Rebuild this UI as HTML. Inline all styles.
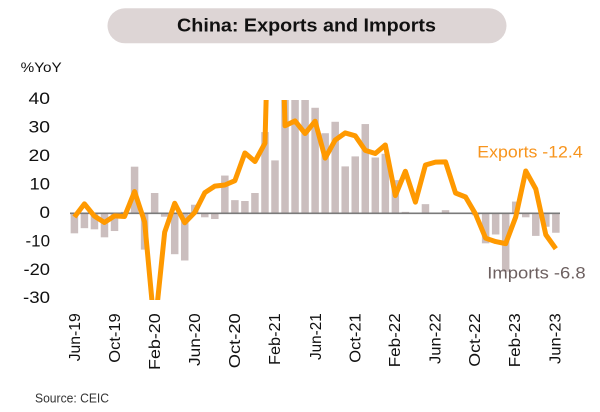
<!DOCTYPE html>
<html>
<head>
<meta charset="utf-8">
<style>
  html,body{margin:0;padding:0;background:#fff;}
  svg{display:block;}
  text{font-family:"Liberation Sans",sans-serif;}
</style>
</head>
<body>
<svg width="600" height="412" viewBox="0 0 600 412" xmlns="http://www.w3.org/2000/svg">
  <rect x="0" y="0" width="600" height="412" fill="#ffffff"/>
  <rect x="107.5" y="8.3" width="399" height="35" rx="17.5" ry="17.5" fill="#ddd5d5"/>
  <text x="177" y="31.5" font-size="18" font-weight="bold" fill="#111" textLength="259" lengthAdjust="spacingAndGlyphs">China: Exports and Imports</text>

  <text x="20.7" y="72" font-size="13.5" fill="#111" textLength="41" lengthAdjust="spacingAndGlyphs">%YoY</text>

  <g font-size="16.5" fill="#111" text-anchor="end">
    <text x="50" y="104.2" textLength="21.5" lengthAdjust="spacingAndGlyphs">40</text>
    <text x="50" y="132.6" textLength="21.5" lengthAdjust="spacingAndGlyphs">30</text>
    <text x="50" y="161.1" textLength="21.5" lengthAdjust="spacingAndGlyphs">20</text>
    <text x="50" y="189.5" textLength="20.5" lengthAdjust="spacingAndGlyphs">10</text>
    <text x="50" y="217.9" textLength="10.5" lengthAdjust="spacingAndGlyphs">0</text>
    <text x="50" y="246.4" textLength="24.5" lengthAdjust="spacingAndGlyphs">-10</text>
    <text x="50" y="274.8" textLength="26.5" lengthAdjust="spacingAndGlyphs">-20</text>
    <text x="50" y="303.2" textLength="27" lengthAdjust="spacingAndGlyphs">-30</text>
  </g>

  <defs>
    <clipPath id="plot">
      <rect x="60" y="100" width="510" height="200"/>
    </clipPath>
  </defs>

  <g fill="#cbbebe" clip-path="url(#plot)">
    <rect x="70.65" y="213.3" width="7.5" height="20.02"/>
    <rect x="80.68" y="213.3" width="7.5" height="14.87"/>
    <rect x="90.71" y="213.3" width="7.5" height="16.02"/>
    <rect x="100.74" y="213.3" width="7.5" height="24.02"/>
    <rect x="110.77" y="213.3" width="7.5" height="17.73"/>
    <rect x="120.8" y="211.87" width="7.5" height="1.43"/>
    <rect x="130.83" y="166.68" width="7.5" height="46.62"/>
    <rect x="140.86" y="213.3" width="7.5" height="36.32"/>
    <rect x="150.89" y="193.0" width="7.5" height="20.31"/>
    <rect x="160.92" y="213.3" width="7.5" height="3.43"/>
    <rect x="170.95" y="213.3" width="7.5" height="40.9"/>
    <rect x="180.98" y="213.3" width="7.5" height="47.19"/>
    <rect x="191.01" y="204.72" width="7.5" height="8.58"/>
    <rect x="201.04" y="213.3" width="7.5" height="4.0"/>
    <rect x="211.07" y="213.3" width="7.5" height="5.72"/>
    <rect x="221.1" y="175.55" width="7.5" height="37.75"/>
    <rect x="231.13" y="200.14" width="7.5" height="13.16"/>
    <rect x="241.16" y="201.0" width="7.5" height="12.3"/>
    <rect x="251.19" y="193.0" width="7.5" height="20.31"/>
    <rect x="261.22" y="132.08" width="7.5" height="81.22"/>
    <rect x="271.25" y="160.39" width="7.5" height="52.91"/>
    <rect x="281.28" y="100" width="7.5" height="113.3"/>
    <rect x="291.31" y="100" width="7.5" height="113.3"/>
    <rect x="301.34" y="100" width="7.5" height="113.3"/>
    <rect x="311.37" y="107.77" width="7.5" height="105.53"/>
    <rect x="321.4" y="133.22" width="7.5" height="80.08"/>
    <rect x="331.43" y="121.78" width="7.5" height="91.52"/>
    <rect x="341.46" y="166.4" width="7.5" height="46.9"/>
    <rect x="351.49" y="156.39" width="7.5" height="56.91"/>
    <rect x="361.52" y="124.07" width="7.5" height="89.23"/>
    <rect x="371.55" y="157.53" width="7.5" height="55.77"/>
    <rect x="381.58" y="153.81" width="7.5" height="59.49"/>
    <rect x="391.61" y="180.12" width="7.5" height="33.18"/>
    <rect x="401.64" y="211.87" width="7.5" height="1.43"/>
    <rect x="421.7" y="204.15" width="7.5" height="9.15"/>
    <rect x="431.73" y="212.73" width="7.5" height="0.57"/>
    <rect x="441.76" y="210.15" width="7.5" height="3.15"/>
    <rect x="451.79" y="212.73" width="7.5" height="0.57"/>
    <rect x="461.82" y="212.73" width="7.5" height="0.57"/>
    <rect x="471.85" y="213.3" width="7.5" height="2.0"/>
    <rect x="481.88" y="213.3" width="7.5" height="30.03"/>
    <rect x="491.91" y="213.3" width="7.5" height="21.16"/>
    <rect x="501.94" y="213.3" width="7.5" height="58.34"/>
    <rect x="511.97" y="201.57" width="7.5" height="11.73"/>
    <rect x="522.0" y="213.3" width="7.5" height="4.0"/>
    <rect x="532.03" y="213.3" width="7.5" height="22.59"/>
    <rect x="542.06" y="213.3" width="7.5" height="13.44"/>
    <rect x="552.09" y="213.3" width="7.5" height="19.45"/>
  </g>

  <line x1="70" y1="213.3" x2="560" y2="213.3" stroke="#7a7a7a" stroke-width="1.6"/>

  <polyline clip-path="url(#plot)" fill="none" stroke="#ff9900" stroke-width="5" stroke-linejoin="round" stroke-linecap="butt"
    points="74.4,217.0 84.43,203.86 94.46,216.16 104.49,222.45 114.52,215.87 124.55,216.45 134.58,191.56 144.61,221.88 154.64,329.4 164.67,232.18 174.7,203.29 184.73,222.74 194.76,212.44 204.79,192.71 214.82,186.13 224.85,184.99 234.88,180.7 244.91,152.95 254.94,161.53 264.97,143.23 275.0,-229.7 285.03,125.78 295.06,120.92 305.09,133.51 315.12,121.21 325.15,158.1 335.18,140.08 345.21,132.93 355.24,135.79 365.27,150.38 375.3,153.53 385.33,144.95 395.36,195.57 405.39,171.26 415.42,202.15 425.45,164.97 435.48,162.11 445.51,161.82 455.54,193.0 465.57,197.0 475.6,214.16 485.63,238.18 495.66,241.61 505.69,243.62 515.72,217.02 525.75,170.97 535.78,189.0 545.81,234.75 555.84,248.76"/>

  <text x="477.3" y="157.3" font-size="17" fill="#f7941d" textLength="105.4" lengthAdjust="spacingAndGlyphs">Exports -12.4</text>
  <text x="487.3" y="278.3" font-size="17" fill="#6d6060" textLength="98.4" lengthAdjust="spacingAndGlyphs">Imports -6.8</text>

  <g font-size="16" fill="#111" text-anchor="end">
    <text transform="translate(80.0,313.3) rotate(-90)" textLength="48" lengthAdjust="spacingAndGlyphs">Jun-19</text>
    <text transform="translate(120.0,313.3) rotate(-90)" textLength="49.4" lengthAdjust="spacingAndGlyphs">Oct-19</text>
    <text transform="translate(160.0,313.3) rotate(-90)" textLength="56.7" lengthAdjust="spacingAndGlyphs">Feb-20</text>
    <text transform="translate(200.0,313.3) rotate(-90)" textLength="52.7" lengthAdjust="spacingAndGlyphs">Jun-20</text>
    <text transform="translate(240.0,313.3) rotate(-90)" textLength="55" lengthAdjust="spacingAndGlyphs">Oct-20</text>
    <text transform="translate(280.0,313.3) rotate(-90)" textLength="51.7" lengthAdjust="spacingAndGlyphs">Feb-21</text>
    <text transform="translate(321.0,313.3) rotate(-90)" textLength="46.7" lengthAdjust="spacingAndGlyphs">Jun-21</text>
    <text transform="translate(360.6,313.3) rotate(-90)" textLength="49.4" lengthAdjust="spacingAndGlyphs">Oct-21</text>
    <text transform="translate(400.0,313.3) rotate(-90)" textLength="54" lengthAdjust="spacingAndGlyphs">Feb-22</text>
    <text transform="translate(440.6,313.3) rotate(-90)" textLength="50.7" lengthAdjust="spacingAndGlyphs">Jun-22</text>
    <text transform="translate(480.0,313.3) rotate(-90)" textLength="53.4" lengthAdjust="spacingAndGlyphs">Oct-22</text>
    <text transform="translate(520.0,313.3) rotate(-90)" textLength="54" lengthAdjust="spacingAndGlyphs">Feb-23</text>
    <text transform="translate(560.6,313.3) rotate(-90)" textLength="50.7" lengthAdjust="spacingAndGlyphs">Jun-23</text>
  </g>

  <text x="35" y="402.3" font-size="13" fill="#333" textLength="74" lengthAdjust="spacingAndGlyphs">Source: CEIC</text>
</svg>
</body>
</html>
